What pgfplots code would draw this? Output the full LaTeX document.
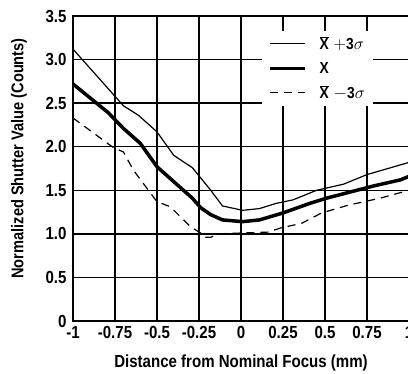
\documentclass[border=0pt]{standalone}
\usepackage{pgfplots}
\pgfplotsset{compat=1.18}
\usepackage{fontspec}
\setmainfont{Liberation Sans Bold}[FakeStretch=0.86]
\begin{document}
\begin{tikzpicture}
\begin{axis}[
  at={(0,0)}, anchor=south west,
  scale only axis, width=336pt, height=305pt,
  xmin=-1, xmax=1, ymin=0, ymax=3.5,
  xtick={-1,-0.75,-0.5,-0.25,0,0.25,0.5,0.75,1},
  xticklabels={-1,-0.75,-0.5,-0.25,0,0.25,0.5,0.75,1},
  ytick={0,0.5,1,1.5,2,2.5,3,3.5},
  yticklabels={0,0.5,1.0,1.5,2.0,2.5,3.0,3.5},
  major tick length=0pt,
  grid=major,
  grid style={black, line width=1.3pt},
  axis line style={black, line width=1.3pt},
  tick label style={font=\fontsize{17.5}{18}\selectfont},
  xticklabel style={yshift=-2pt},
  yticklabel style={xshift=-3pt},
  xlabel={Distance from Nominal Focus (mm)},
  ylabel={Normalized Shutter Value (Counts)},
  label style={font=\fontsize{17.5}{18}\selectfont},
  xlabel style={at={(axis description cs:0.5,-0.138)}, anchor=center},
  ylabel style={at={(axis description cs:-0.161,0.533)}, anchor=center, font=\fontsize{17}{18}\selectfont},
  legend style={at={(0.5625,0.953)}, anchor=north west, draw=none, fill=white,
    font=\fontsize{16}{16}\selectfont, inner xsep=6pt, inner ysep=4pt,
    row sep=7pt},
  legend cell align=left,
  legend image code/.code={\draw[#1] (0pt,0pt) -- (35pt,0pt);},
]
\addplot[black, line width=1.2pt] coordinates {
(-1,3.12) (-0.70,2.47) (-0.61,2.36) (-0.50,2.17) (-0.40,1.90) (-0.29,1.76)
(-0.18,1.50) (-0.11,1.32) (0.01,1.27) (0.11,1.29) (0.21,1.35) (0.31,1.39)
(0.45,1.50) (0.61,1.57) (0.75,1.68) (1.0,1.82)};
\addlegendentry{\hspace{11pt}$\overline{\hbox{X}}\;{+}\hbox{3}\sigma$\hspace{5pt}}
\addplot[black, line width=3.5pt] coordinates {
(-1,2.72) (-0.79,2.39) (-0.70,2.21) (-0.60,2.04) (-0.50,1.77) (-0.29,1.41)
(-0.24,1.30) (-0.18,1.22) (-0.11,1.16) (0.01,1.14) (0.11,1.16) (0.25,1.24)
(0.41,1.35) (0.51,1.41) (0.65,1.48) (0.79,1.55) (0.95,1.62) (1.0,1.66)};
\addlegendentry{\hspace{11pt}X}
\addplot[black, line width=1.2pt, dash pattern=on 8pt off 6pt] coordinates {
(-1,2.33) (-0.76,1.99) (-0.70,1.94) (-0.64,1.73) (-0.52,1.42) (-0.50,1.37)
(-0.42,1.31) (-0.30,1.08) (-0.24,1.01) (-0.21,0.96) (-0.18,0.96) (-0.14,1.00)
(0.01,1.01) (0.16,1.02) (0.24,1.07) (0.36,1.12) (0.48,1.24) (0.64,1.33)
(0.83,1.41) (1.0,1.50)};
\addlegendentry{\hspace{11pt}$\overline{\hbox{X}}\;{-}\hbox{3}\sigma$\hspace{5pt}}
\end{axis}
\pgfresetboundingbox
\useasboundingbox (-73pt,-53pt) rectangle (335pt,321pt);
\end{tikzpicture}
\end{document}
